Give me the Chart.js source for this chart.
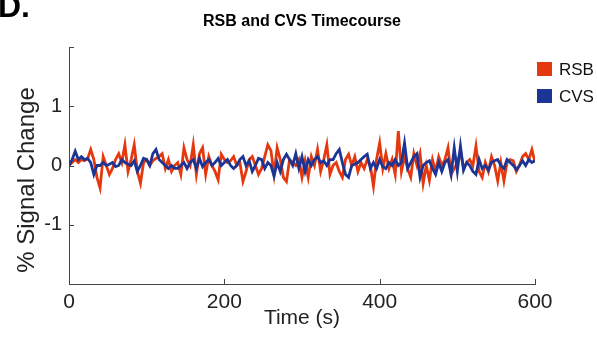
<!DOCTYPE html>
<html>
<head>
<meta charset="utf-8">
<script src="https://cdn.jsdelivr.net/npm/chart.js@4.4.0/dist/chart.umd.min.js"></script>
<style>
  html, body { margin: 0; padding: 0; background: #fff; }
  #grafico { display: block; }
</style>
</head>
<body>
<canvas id="grafico" width="597" height="339"></canvas>
<script>
// serie muestreada cada 4 s, de 0 a 600 s
const pasoMuestreo = 4;
const tiempos = Array.from({ length: 151 }, (_, i) => i * pasoMuestreo);

const senalRSB = [
  0, 0.05, 0.1, 0.05, 0.1, 0.08, 0.12, 0.27, 0.1, -0.2,
  -0.38, 0.15, 0.0, -0.15, -0.05, 0.1, 0.2, 0.05, 0.35, -0.1,
  0.1, 0.35, -0.1, -0.3, 0.05, 0.1, 0.0, 0.08, 0.12, 0.15,
  0.2, -0.05, 0.1, -0.1, 0.0, 0.05, -0.15, 0.3, 0.1, 0.0,
  0.35, -0.15, 0.2, 0.3, -0.15, 0.15, 0.0, -0.1, -0.24, 0.19,
  0.1, 0.05, 0.08, 0.15, 0.0, 0.05, -0.27, -0.1, 0.1, 0.15,
  0.0, -0.15, -0.05, 0.15, 0.35, 0.25, -0.15, 0.3, 0.1, -0.2,
  -0.27, 0.1, 0.05, 0.0, 0.1, -0.2, 0.08, -0.2, 0.15, 0.0,
  0.27, -0.1, 0.1, 0.35, -0.15, 0.0, 0.05, -0.1, -0.2, 0.1,
  0.19, 0.0, 0.15, -0.1, 0.05, -0.05, 0.1, 0.0, -0.35, 0.1,
  0.38, -0.05, 0.2, -0.05, 0.1, -0.15, 0.58, -0.1, 0.15, -0.05,
  -0.2, 0.2, 0.0, 0.2, -0.3, 0.0, -0.25, 0.1, -0.1, 0.15,
  0.0, 0.1, 0.3, -0.15, -0.05, 0.05, 0.25, -0.05, 0.05, 0.1,
  0.0, 0.33, -0.1, -0.2, 0.05, -0.1, 0.15, 0.0, -0.26, 0.05,
  -0.26, 0.05, 0.1, 0.08, -0.1, 0.0, 0.15, 0.2, 0.1, 0.27, 0.05
];

const senalCVS = [
  0, 0.1, 0.24, 0.1, 0.15, 0.1, 0.12, 0.05, -0.15, 0.0,
  0.0, 0.05, 0.0, 0.02, 0.05, -0.02, 0.0, 0.1, 0.05, 0.02,
  0.0, 0.08, -0.1, 0.0, 0.12, 0.1, 0.0, 0.2, 0.27, 0.1,
  0.05, 0.0, -0.05, 0.0, -0.05, -0.05, 0.0, 0.05, -0.05, 0.05,
  0.1, -0.05, 0.12, -0.02, 0.05, 0.1, 0.0, 0.05, 0.12, 0.0,
  0.05, 0.1, 0.0, -0.05, 0.0, 0.1, 0.15, 0.0, 0.08, -0.1,
  0.0, 0.12, 0.1, -0.05, 0.05, 0.0, -0.18, 0.05, -0.1, 0.1,
  0.19, 0.1, 0.0, 0.2, -0.05, 0.15, -0.1, 0.1, 0.0, 0.1,
  0.15, 0.05, 0.08, 0.0, 0.1, 0.1, 0.2, 0.27, 0.05, -0.15,
  -0.2, 0.0, 0.02, 0.05, 0.1, 0.15, 0.19, -0.05, 0.05, -0.05,
  0.1, -0.02, -0.05, 0.05, 0.0, 0.1, 0.0, 0.05, 0.38, -0.05,
  0.05, 0.15, 0.2, -0.2, 0.0, 0.05, 0.08, -0.05, -0.15, 0.05,
  -0.1, 0.05, 0.1, -0.15, 0.3, -0.1, 0.33, -0.08, 0.05, 0.0,
  -0.1, -0.15, 0.1, -0.05, 0.0, -0.08, 0.05, 0.08, 0.1, 0.0,
  -0.05, 0.1, 0.05, 0.0, -0.07, 0.0, 0.08, 0.0, 0.1, 0.05, 0.08
];

const ticksX = [0, 200, 400, 600];
const ticksY = [-2, -1, 0, 1, 2];
const etiquetasY = ['', '-1', '0', '1', ''];

const colorRSB = '#e4380f';
const colorCVS = '#1c3595';
const fuente = 'Arial, "Liberation Sans", Helvetica, sans-serif';

// titulo, letra del panel, titulo del eje y, leyenda y marcas hacia adentro
const extras = {
  id: 'extras',
  afterDraw(chart) {
    const c = chart.ctx;
    const area = chart.chartArea;
    const sx = chart.scales.x;
    const sy = chart.scales.y;
    c.save();

    c.fillStyle = '#000';
    c.font = 'bold 32px ' + fuente;
    c.textAlign = 'left';
    c.textBaseline = 'alphabetic';
    c.fillText('D.', -2, 17);

    c.font = 'bold 16px ' + fuente;
    c.textAlign = 'center';
    c.textBaseline = 'middle';
    c.fillText('RSB and CVS Timecourse', (area.left + area.right) / 2, 22);

    // titulo del eje y (algo por debajo del centro, como en la figura)
    c.save();
    c.fillStyle = '#222';
    c.font = '24px ' + fuente;
    c.translate(27, 180);
    c.rotate(-Math.PI / 2);
    c.fillText('% Signal Change', 0, 0);
    c.restore();

    // marcas de los ejes
    c.strokeStyle = '#444';
    c.lineWidth = 1;
    c.beginPath();
    ticksX.forEach(v => {
      const px = Math.round(sx.getPixelForValue(v)) + 0.5;
      c.moveTo(px, area.bottom);
      c.lineTo(px, area.bottom - 5);
    });
    ticksY.forEach(v => {
      const py = Math.round(sy.getPixelForValue(v)) + 0.5;
      c.moveTo(area.left, py);
      c.lineTo(area.left + 5, py);
    });
    c.stroke();

    // leyenda
    c.font = '17px ' + fuente;
    c.textAlign = 'left';
    chart.data.datasets.forEach((ds, i) => {
      const y = 62 + i * 27;
      c.fillStyle = ds.borderColor;
      c.fillRect(537, y, 15, 14);
      c.fillStyle = '#111';
      c.fillText(ds.label, 559, y + 8);
    });
    c.restore();
  }
};

new Chart(document.getElementById('grafico'), {
  type: 'line',
  data: {
    datasets: [
      {
        label: 'RSB',
        data: tiempos.map((t, i) => ({ x: t, y: senalRSB[i] })),
        borderColor: colorRSB,
        borderWidth: 2.8,
        pointRadius: 0,
        tension: 0,
        order: 1
      },
      {
        label: 'CVS',
        data: tiempos.map((t, i) => ({ x: t, y: senalCVS[i] })),
        borderColor: colorCVS,
        borderWidth: 2.8,
        pointRadius: 0,
        tension: 0,
        order: 0
      }
    ]
  },
  options: {
    responsive: false,
    animation: false,
    layout: { padding: { top: 47, right: 62, left: 0, bottom: 0 } },
    plugins: {
      legend: { display: false },
      title: { display: false },
      tooltip: { enabled: false }
    },
    scales: {
      x: {
        type: 'linear',
        min: 0,
        max: 600,
        afterBuildTicks: s => { s.ticks = ticksX.map(v => ({ value: v })); },
        afterFit: s => { s.height = 55; },
        grid: { display: false, drawTicks: false },
        border: { display: true, color: '#444', width: 1 },
        ticks: {
          padding: 6,
          color: '#222',
          font: { family: fuente, size: 21 },
          maxRotation: 0
        },
        title: {
          display: true,
          text: 'Time (s)',
          color: '#222',
          font: { family: fuente, size: 21 },
          padding: { top: 0, bottom: 8 }
        }
      },
      y: {
        min: -2,
        max: 2,
        afterBuildTicks: s => { s.ticks = ticksY.map(v => ({ value: v })); },
        afterFit: s => { s.width = 69; },
        grid: { display: false, drawTicks: false },
        border: { display: true, color: '#444', width: 1 },
        ticks: {
          padding: 7,
          color: '#222',
          font: { family: fuente, size: 20 },
          callback: (v, i) => etiquetasY[i]
        }
      }
    }
  },
  plugins: [extras]
});
</script>
</body>
</html>
